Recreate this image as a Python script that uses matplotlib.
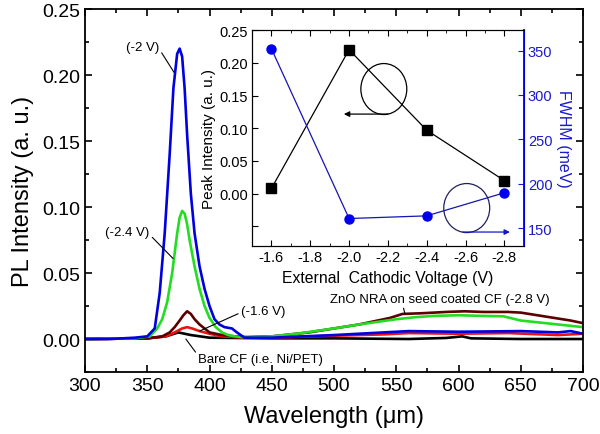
import matplotlib
matplotlib.use("Agg")
from matplotlib import pyplot as plt
from matplotlib.patches import Ellipse
from matplotlib.ticker import MultipleLocator, FixedFormatter, FixedLocator

plt.rcParams['font.family'] = ['Liberation Sans', 'DejaVu Sans']

# PL spectra (wavelength nm, intensity a.u.)
wl_2v = [300, 320, 340, 350, 356, 360, 364, 368, 371, 374, 376, 378, 380, 382, 385, 388, 392, 396, 400,
         404, 408, 412, 418, 422, 428, 450, 500, 540, 560, 600, 650, 680, 690, 700]
pl_2v = [0, 0, 0.001, 0.002, 0.008, 0.035, 0.08, 0.14, 0.19, 0.216, 0.22, 0.214, 0.19, 0.155, 0.11,
         0.08, 0.055, 0.038, 0.025, 0.015, 0.011, 0.009, 0.008, 0.005, 0.001, 0.001, 0.003, 0.005,
         0.006, 0.0055, 0.006, 0.005, 0.006, 0.004]

wl_24v = [300, 340, 352, 358, 362, 366, 370, 374, 376, 378, 380, 382, 384, 388, 392, 396, 400, 405, 410,
          415, 420, 430, 450, 470, 500, 520, 535, 550, 565, 580, 600, 620, 636, 650, 670, 690, 700]
pl_24v = [0, 0.0005, 0.002, 0.008, 0.015, 0.028, 0.05, 0.08, 0.092, 0.097, 0.095, 0.087, 0.075, 0.055,
          0.038, 0.025, 0.016, 0.009, 0.005, 0.003, 0.002, 0.001, 0.002, 0.004, 0.008, 0.011, 0.013,
          0.015, 0.0165, 0.0175, 0.018, 0.0175, 0.0172, 0.014, 0.012, 0.010, 0.009]

wl_28v = [300, 350, 362, 368, 372, 376, 379, 382, 385, 388, 392, 396, 400, 405, 410, 420, 430, 450, 480,
          500, 520, 535, 545, 555, 570, 590, 605, 620, 640, 650, 670, 690, 700]
pl_28v = [0, 0.0005, 0.002, 0.005, 0.009, 0.014, 0.018, 0.021, 0.019, 0.015, 0.011, 0.008, 0.005, 0.004,
          0.003, 0.002, 0.0015, 0.002, 0.005, 0.008, 0.011, 0.014, 0.016, 0.019, 0.0195, 0.0205, 0.021,
          0.0205, 0.0205, 0.02, 0.017, 0.014, 0.012]

wl_16v = [300, 350, 365, 372, 378, 382, 386, 392, 400, 410, 430, 450, 500, 540, 560, 600, 640, 680, 700]
pl_16v = [0, 0.0005, 0.002, 0.005, 0.008, 0.009, 0.008, 0.006, 0.004, 0.002, 0.001, 0.001, 0.0025,
          0.0035, 0.0045, 0.004, 0.0045, 0.003, 0.004]

wl_bare = [300, 350, 365, 375, 385, 400, 450, 500, 560, 590, 603, 610, 650, 700]
pl_bare = [0, 0.0005, 0.002, 0.005, 0.003, 0.001, 0.0005, 0.0005, 0.0, 0.0008, 0.002, 0.0005, 0.0, 0.0]

# inset data
voltage = [-1.6, -2.0, -2.4, -2.8]
peak = [0.008, 0.22, 0.097, 0.02]
fwhm = [352, 161, 164, 190]

fig = plt.figure(figsize=(6, 4.35), dpi=100)
ax = fig.add_axes([0.1417, 0.1425, 0.83, 0.8345])

ax.plot(wl_bare, pl_bare, color="black", lw=1.9)
ax.plot(wl_16v, pl_16v, color="#ee1111", lw=1.9)
ax.plot(wl_28v, pl_28v, color="#5a0000", lw=1.9)
ax.plot(wl_24v, pl_24v, color="#22dd22", lw=1.9)
ax.plot(wl_2v, pl_2v, color="#0000e0", lw=1.9)

ax.set_xlim(300, 700)
ax.set_ylim(-0.025, 0.25)
ax.xaxis.set_major_locator(MultipleLocator(50))
ax.xaxis.set_minor_locator(MultipleLocator(25))
ax.yaxis.set_major_locator(FixedLocator([0, 0.05, 0.10, 0.15, 0.20, 0.25]))
ax.yaxis.set_minor_locator(MultipleLocator(0.025))
ax.yaxis.set_major_formatter(FixedFormatter(["0.00", "0.05", "0.10", "0.15", "0.20", "0.25"]))
ax.tick_params(which="both", direction="in", top=True, right=True, width=1.2)
ax.tick_params(which="major", length=5, labelsize=14)
ax.tick_params(which="minor", length=3)
for s in ax.spines.values():
    s.set_linewidth(1.3)
ax.set_xlabel("Wavelength (\u03bcm)", fontsize=17, labelpad=8)
ax.set_ylabel("PL Intensity (a. u.)", fontsize=17, labelpad=6)

lp = dict(arrowstyle="-", color="black", lw=0.8, shrinkA=0, shrinkB=0)
ax.annotate("(-2 V)", xy=(371.5, 0.202), xytext=(346, 0.221), ha="center", va="center", fontsize=9.5,
            arrowprops=dict(lp, relpos=(1.0, 0.4)))
ax.annotate("(-2.4 V)", xy=(370.7, 0.061), xytext=(334, 0.081), ha="center", va="center", fontsize=9.5,
            arrowprops=dict(lp, relpos=(1.0, 0.3)))
ax.annotate("(-1.6 V)", xy=(392, 0.006), xytext=(443, 0.021), ha="center", va="center", fontsize=9.5,
            arrowprops=dict(lp, relpos=(0.0, 0.4)))
ax.annotate("Bare CF (i.e. Ni/PET)", xy=(381, 0.0), xytext=(391, -0.0155), ha="left", va="center",
            fontsize=9.5, arrowprops=dict(lp, relpos=(0.0, 0.8)))
ax.annotate("ZnO NRA on seed coated CF (-2.8 V)", xy=(557, 0.019), xytext=(585, 0.030), ha="center",
            va="center", fontsize=9.5, arrowprops=dict(lp, relpos=(0.33, 0.1)))

# inset
ax2 = fig.add_axes([0.42, 0.432, 0.453, 0.4966])
ax2.plot(voltage, peak, color="black", lw=0.9, marker="s", ms=6.5)
ax2.set_xlim(-1.5, -2.9)
ax2.set_ylim(-0.08, 0.25)
ax2.xaxis.set_major_locator(FixedLocator([-1.6, -1.8, -2.0, -2.2, -2.4, -2.6, -2.8]))
ax2.xaxis.set_major_formatter(FixedFormatter(["-1.6", "-1.8", "-2.0", "-2.2", "-2.4", "-2.6", "-2.8"]))
ax2.xaxis.set_minor_locator(MultipleLocator(0.1))
ax2.yaxis.set_major_locator(FixedLocator([-0.05, 0, 0.05, 0.10, 0.15, 0.20, 0.25]))
ax2.yaxis.set_major_formatter(FixedFormatter(["", "0.00", "0.05", "0.10", "0.15", "0.20", "0.25"]))
ax2.tick_params(which="both", direction="in", top=True, labelsize=10.5, pad=3)
ax2.tick_params(which="major", length=4)
ax2.tick_params(which="minor", length=2.5)
ax2.set_xlabel("External  Cathodic Voltage (V)", fontsize=11.3, labelpad=4)
ax2.set_ylabel("Peak Intensity (a. u.)", fontsize=11, labelpad=2)

ax3 = ax2.twinx()
ax3.plot(voltage, fwhm, color="#1515b0", lw=0.9, marker="o", ms=6.5, mfc="#0000ee", mec="#0000ee")
ax3.set_ylim(130, 373)
ax3.yaxis.set_major_locator(MultipleLocator(50))
ax3.tick_params(axis="y", direction="in", colors="#1a1acc", labelsize=10.5, length=4, pad=3)
ax3.spines["right"].set_color("#0000ee")
ax3.spines["right"].set_linewidth(1.3)
ax3.set_ylabel("FWHM (meV)", fontsize=11.5, color="#1a1acc", rotation=270, labelpad=13)

ax2.add_patch(Ellipse((0.485, 0.727), 0.169, 0.236, transform=ax2.transAxes, fill=False,
                      edgecolor="black", lw=0.9))
ax2.annotate("", xy=(0.338, 0.611), xytext=(0.5, 0.611), xycoords="axes fraction",
             arrowprops=dict(arrowstyle="-|>", color="black", lw=0.9, mutation_scale=8,
                             shrinkA=0, shrinkB=0))
ax2.add_patch(Ellipse((0.79, 0.176), 0.169, 0.227, transform=ax2.transAxes, fill=False,
                      edgecolor="#202060", lw=0.9))
ax2.annotate("", xy=(0.949, 0.065), xytext=(0.776, 0.065), xycoords="axes fraction",
             arrowprops=dict(arrowstyle="-|>", color="#1515c8", lw=0.9, mutation_scale=8,
                             shrinkA=0, shrinkB=0))

plt.savefig("out.png", dpi=100)
